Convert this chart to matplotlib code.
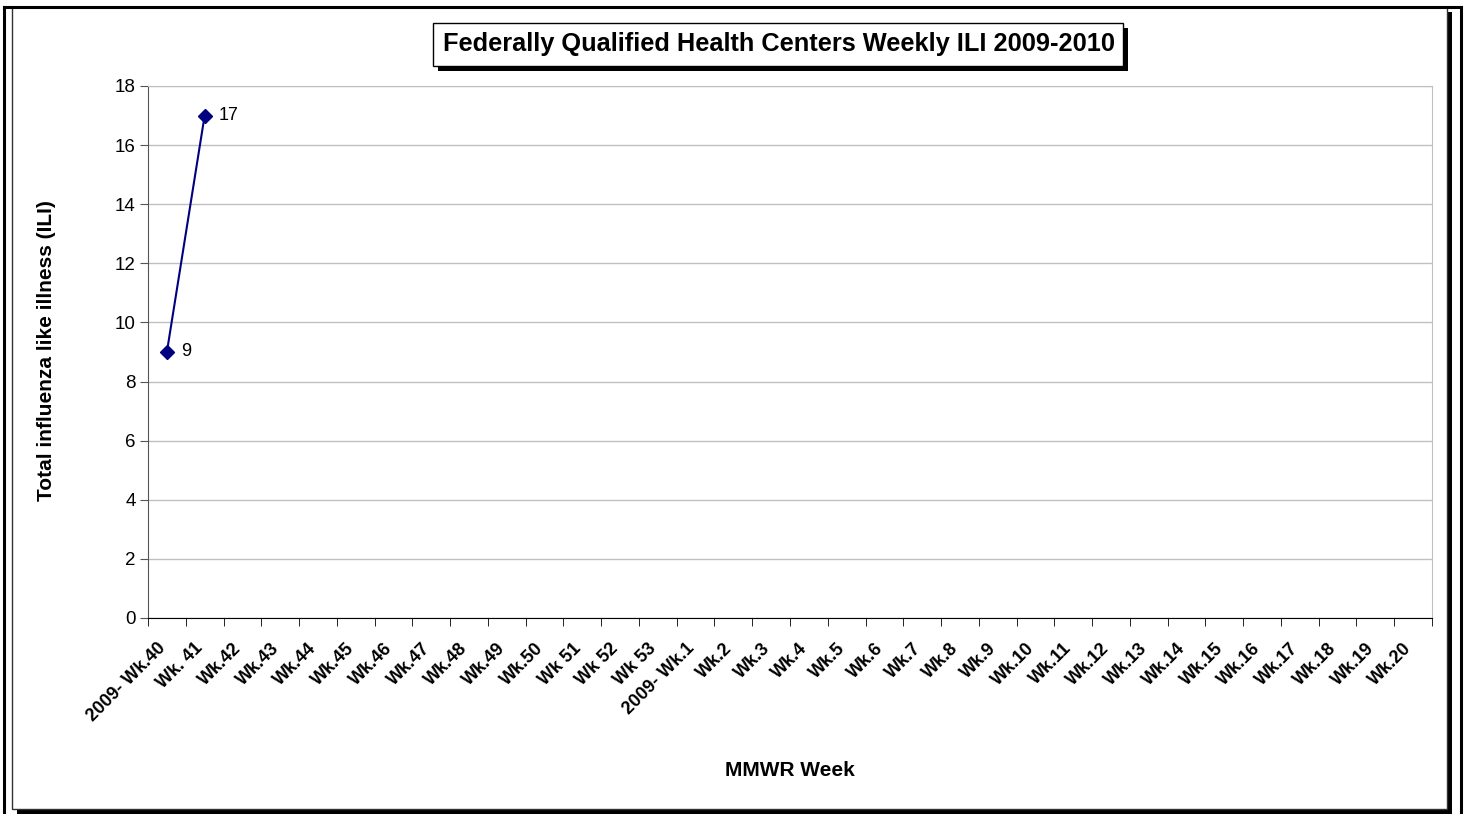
# Federally Qualified Health Centers weekly ILI chart
import numpy as np
import matplotlib.pyplot as plt
from matplotlib.patches import Rectangle
from matplotlib.transforms import ScaledTranslation

plt.rcParams['font.family'] = ['Liberation Sans', 'DejaVu Sans']

# Data
weeks = ['2009- Wk.40', 'Wk. 41', 'Wk.42', 'Wk.43', 'Wk.44', 'Wk.45', 'Wk.46',
         'Wk.47', 'Wk.48', 'Wk.49', 'Wk.50', 'Wk 51', 'Wk 52', 'Wk 53',
         '2009- Wk.1', 'Wk.2', 'Wk.3', 'Wk.4', 'Wk.5', 'Wk.6', 'Wk.7', 'Wk.8',
         'Wk.9', 'Wk.10', 'Wk.11', 'Wk.12', 'Wk.13', 'Wk.14', 'Wk.15', 'Wk.16',
         'Wk.17', 'Wk.18', 'Wk.19', 'Wk.20']
ili_counts = [9, 17]

W, H = 1466, 814
fig = plt.figure(figsize=(W / 100, H / 100), dpi=100)

def fx(x):
    return x / W

def fy(y):
    return 1 - y / H

def rect(x0, y0, x1, y1, **kw):
    # rectangle given in pixel coords (top-left origin)
    r = Rectangle((fx(x0), fy(y1)), fx(x1) - fx(x0), fy(y0) - fy(y1),
                  transform=fig.transFigure, **kw)
    fig.add_artist(r)
    return r

# outer chart frame with shadow
rect(17, 12, 1452, 814, facecolor='black', edgecolor='none', zorder=0)
rect(12, 7, 1447, 809, facecolor='white', edgecolor='#333333', linewidth=1, zorder=0.5)
# page edge lines
for xs, ys in [([4, 4], [7, 814]), ([4, 1461], [7, 7]), ([1461, 1461], [7, 814])]:
    fig.add_artist(plt.Line2D([fx(v) for v in xs], [fy(v) for v in ys],
                              transform=fig.transFigure, color='black', linewidth=2.2))

ax = fig.add_axes([fx(148), fy(618), fx(1432) - fx(148), fy(86) - fy(618)])
ax.set_zorder(2)
ax.patch.set_alpha(0)

x = np.arange(len(ili_counts))
ax.plot(x, ili_counts, color='#000080', linewidth=1.5, marker='D', markersize=7,
        markerfacecolor='#000080', markeredgecolor='#000080', zorder=3)
for xi, v in zip(x, ili_counts):
    ax.annotate(str(v), (xi, v), xytext=(10, 0), textcoords='offset points',
                ha='left', va='center', fontsize=13)

ax.set_xlim(-0.5, len(weeks) - 0.5)
ax.set_ylim(0, 18)
ax.set_yticks(np.arange(0, 19, 2))
ax.yaxis.grid(True, color='#c0c0c0', linewidth=1)
ax.set_axisbelow(True)

ax.set_xticks(np.arange(len(weeks)))
ax.set_xticklabels(weeks, rotation=45, ha='right', va='center',
                   rotation_mode='anchor', fontweight='bold', fontsize=13)
ax.tick_params(axis='x', length=0, pad=20)
for lab in ax.get_xticklabels():
    lab.set_transform(lab.get_transform() + ScaledTranslation(-0.04, 0, fig.dpi_scale_trans))
ax.set_xticks(np.arange(len(weeks) + 1) - 0.5, minor=True)
ax.tick_params(axis='x', which='minor', length=6, direction='out', color='black')
ax.tick_params(axis='y', length=6, direction='out', color='#555555', labelsize=13.5, pad=3)

ax.spines['top'].set_color('#c0c0c0')
ax.spines['right'].set_color('#c0c0c0')
ax.spines['left'].set_color('#555555')
ax.spines['bottom'].set_color('black')

# title box with shadow
rect(438, 28, 1128, 71, facecolor='black', edgecolor='none', zorder=1)
rect(433, 23, 1123, 66, facecolor='white', edgecolor='black', linewidth=1, zorder=1.5)
fig.text(fx(779), fy(44.5), 'Federally Qualified Health Centers Weekly ILI 2009-2010',
         ha='center', va='center', fontsize=18.3, fontweight='bold', zorder=3)

fig.text(fx(47), fy(351), 'Total influenza like illness (ILI)', rotation=90,
         ha='center', va='center', fontsize=15, fontweight='bold')
fig.text(fx(790), fy(771), 'MMWR Week', ha='center', va='center',
         fontsize=15, fontweight='bold')

plt.savefig('out.png', dpi=100)
